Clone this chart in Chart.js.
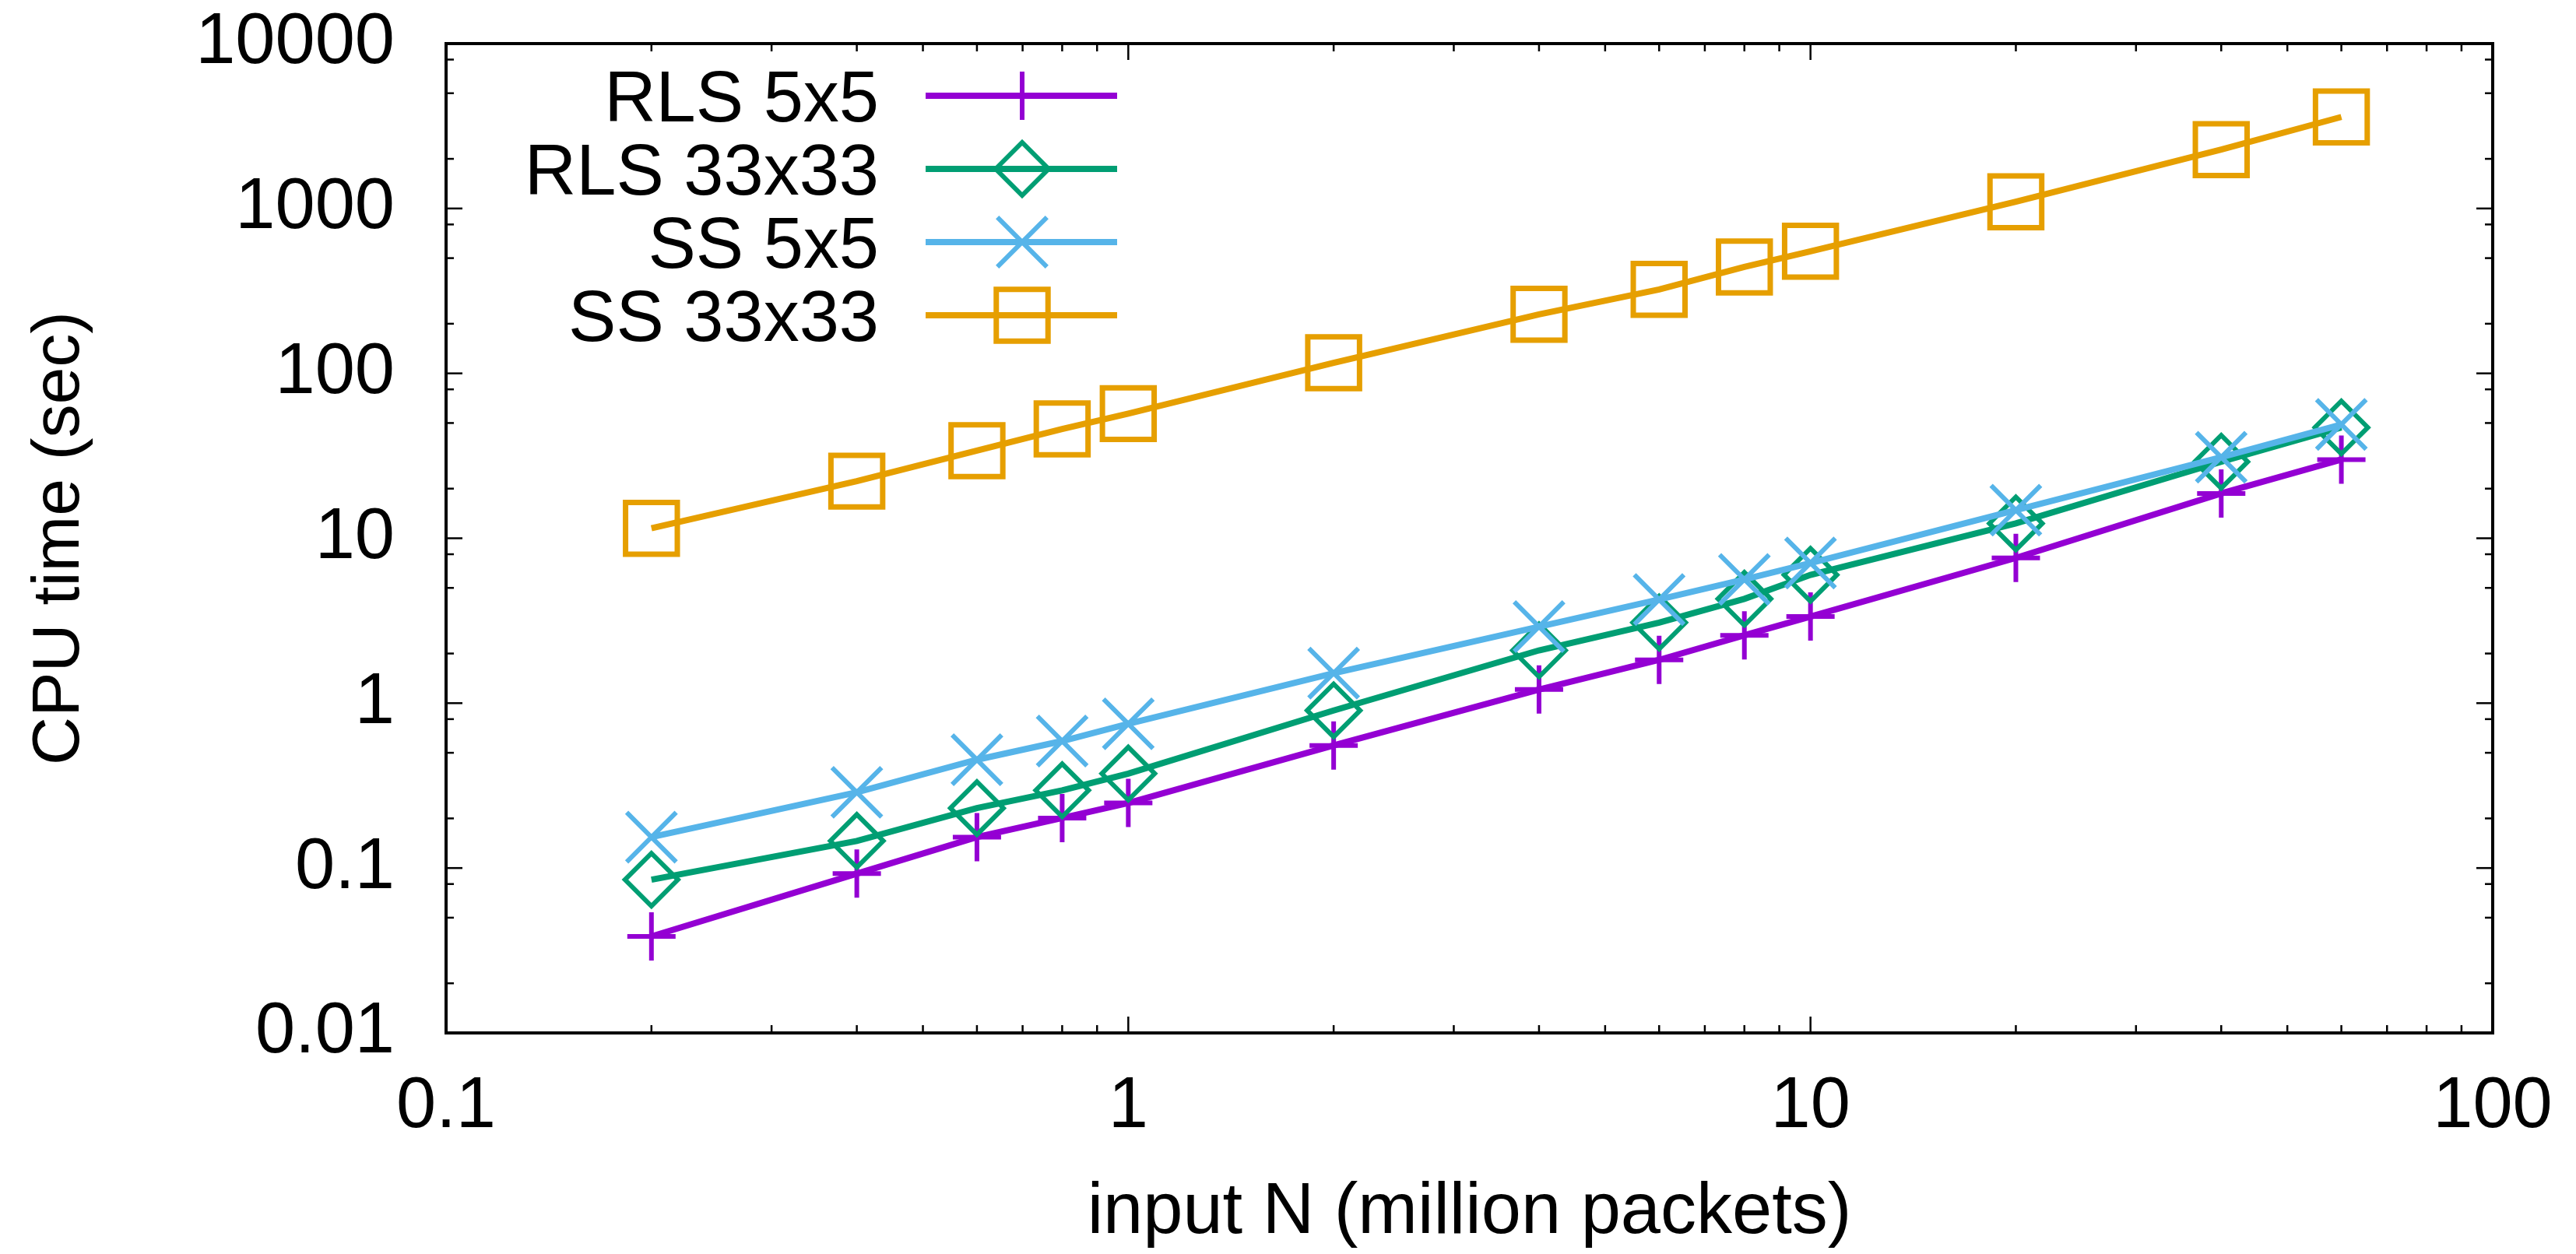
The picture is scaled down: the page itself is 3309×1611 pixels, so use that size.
<!DOCTYPE html>
<html>
<head>
<meta charset="utf-8">
<script src="https://cdn.jsdelivr.net/npm/chart.js@4.4.1/dist/chart.umd.min.js"></script>
<style>
  html, body { margin: 0; padding: 0; background: #fff; }
  #wrap { width: 3309px; height: 1611px; }
</style>
</head>
<body>
<div id="wrap"><canvas id="cpuChart" width="3309" height="1611"></canvas></div>
<script>
// input size (million packets)
const inputN = [0.2, 0.4, 0.6, 0.8, 1, 2, 4, 6, 8, 10, 20, 40, 60];

// CPU time (sec)
const rls5x5   = [0.0385, 0.0925, 0.154, 0.201, 0.248, 0.554, 1.21, 1.83, 2.58, 3.35, 7.6, 18.7, 30.0];
const rls33x33 = [0.085, 0.146, 0.231, 0.296, 0.374, 0.903, 2.09, 3.08, 4.29, 6.0, 12.3, 29.1, 47];
const ss5x5    = [0.154, 0.288, 0.454, 0.589, 0.749, 1.52, 2.91, 4.25, 5.63, 7.08, 14.8, 31.0, 49];
const ss33x33  = [11.5, 22.2, 34, 46, 57, 116, 228, 323, 442, 550, 1099, 2275, 3590];

const seriesNames = ['RLS 5x5', 'RLS 33x33', 'SS 5x5', 'SS 33x33'];
const xTickLabels = ['0.1', '1', '10', '100'];
const yTickLabels = ['0.01', '0.1', '1', '10', '100', '1000', '10000'];

const colors = ['#9400D3', '#009E73', '#56B4E9', '#E69F00'];
const markers = [
    { style: 'cross', radius: 31, width: 6 },
    { style: 'rectRot', radius: 34, width: 6 },
    { style: 'crossRot', radius: 45, width: 6 },
    { style: 'rect', radius: 47, width: 7 }
];
const FONT = '"Liberation Sans", Arial, Helvetica, sans-serif';

const toPoints = ys => inputN.map((x, i) => ({ x: x, y: ys[i] }));
const allSeries = [rls5x5, rls33x33, ss5x5, ss33x33];

const datasets = allSeries.map((ys, i) => ({
    label: seriesNames[i],
    data: toPoints(ys),
    borderColor: colors[i],
    backgroundColor: 'rgba(0,0,0,0)',
    borderWidth: 8,
    pointStyle: markers[i].style,
    pointRadius: markers[i].radius,
    pointBorderWidth: markers[i].width,
    pointBorderColor: colors[i],
    pointBackgroundColor: 'rgba(0,0,0,0)',
    tension: 0,
    order: 4 - i   // later series drawn on top, like gnuplot
}));

// gnuplot style frame with inward ticks on all four sides
const frameTicks = {
    id: 'frameTicks',
    beforeDatasetsDraw(chart) {
        const { ctx, chartArea: a, scales: { x, y } } = chart;
        ctx.save();
        ctx.strokeStyle = '#000';
        ctx.lineWidth = 2.5;
        const seg = (x1, y1, x2, y2) => { ctx.beginPath(); ctx.moveTo(x1, y1); ctx.lineTo(x2, y2); ctx.stroke(); };

        const xMinor = [2, 3, 4, 5, 6, 7, 8, 9];
        xTickLabels.forEach(t => {
            const base = parseFloat(t);
            const px = x.getPixelForValue(base);
            seg(px, a.bottom, px, a.bottom - 21);
            seg(px, a.top, px, a.top + 21);
            if (base >= 100) return;
            xMinor.forEach(m => {
                const p = x.getPixelForValue(base * m);
                seg(p, a.bottom, p, a.bottom - 10);
                seg(p, a.top, p, a.top + 10);
            });
        });

        const yMinor = [2, 5, 8];
        yTickLabels.forEach(t => {
            const base = parseFloat(t);
            const py = y.getPixelForValue(base);
            seg(a.left, py, a.left + 21, py);
            seg(a.right, py, a.right - 21, py);
            if (base >= 10000) return;
            yMinor.forEach(m => {
                const p = y.getPixelForValue(base * m);
                seg(a.left, p, a.left + 10, p);
                seg(a.right, p, a.right - 10, p);
            });
        });

        ctx.lineWidth = 4;
        ctx.strokeRect(a.left, a.top, a.right - a.left, a.bottom - a.top);
        ctx.restore();
    }
};

// key in the top-left corner: text right-aligned, then line sample with marker
const gnuKey = {
    id: 'gnuKey',
    afterDraw(chart) {
        const ctx = chart.ctx;
        ctx.save();
        ctx.font = '92px ' + FONT;
        ctx.textAlign = 'right';
        ctx.textBaseline = 'alphabetic';
        chart.data.datasets.forEach((ds, i) => {
            const rowY = 123 + 94 * i;
            ctx.fillStyle = '#000';
            ctx.fillText(ds.label, 1129, rowY + 33);

            ctx.strokeStyle = ds.borderColor;
            ctx.lineWidth = ds.borderWidth;
            ctx.beginPath();
            ctx.moveTo(1189, rowY);
            ctx.lineTo(1435, rowY);
            ctx.stroke();

            ctx.lineWidth = ds.pointBorderWidth;
            ctx.fillStyle = 'rgba(0,0,0,0)';
            if (Chart.helpers && Chart.helpers.drawPoint) {
                Chart.helpers.drawPoint(ctx, {
                    pointStyle: ds.pointStyle,
                    radius: ds.pointRadius,
                    borderWidth: ds.pointBorderWidth,
                    rotation: 0
                }, 1313, rowY);
            }
        });
        ctx.restore();
    }
};

const ctx = document.getElementById('cpuChart').getContext('2d');
const myChart = new Chart(ctx, {
    type: 'line',
    data: { datasets: datasets },
    options: {
        responsive: false,
        animation: false,
        devicePixelRatio: 1,
        layout: { padding: { top: 56, right: 107, left: 0, bottom: 0 } },
        plugins: {
            legend: { display: false },
            tooltip: { enabled: false }
        },
        scales: {
            x: {
                type: 'logarithmic',
                min: 0.1,
                max: 100,
                grid: { display: false, drawTicks: false },
                border: { display: false },
                afterBuildTicks: s => { s.ticks = xTickLabels.map(t => ({ value: parseFloat(t) })); },
                afterFit: s => {
                    s.height = 1611 - 1327;
                    s.paddingLeft = 0;
                    s.paddingRight = 0;
                },
                ticks: {
                    color: '#000',
                    padding: 50,
                    maxRotation: 0,
                    autoSkip: false,
                    font: { family: FONT, size: 92, lineHeight: 1 },
                    callback: (v, i) => xTickLabels[i]
                },
                title: {
                    display: true,
                    text: 'input N (million packets)',
                    color: '#000',
                    font: { family: FONT, size: 92, lineHeight: 1 },
                    padding: { top: 0, bottom: 6 }
                }
            },
            y: {
                type: 'logarithmic',
                min: 0.01,
                max: 10000,
                grid: { display: false, drawTicks: false },
                border: { display: false },
                afterBuildTicks: s => { s.ticks = yTickLabels.map(t => ({ value: parseFloat(t) })); },
                afterFit: s => {
                    s.width = 573;
                    s.paddingTop = 0;
                    s.paddingBottom = 0;
                },
                ticks: {
                    color: '#000',
                    padding: 66,
                    autoSkip: false,
                    font: { family: FONT, size: 92, lineHeight: 1 },
                    callback: (v, i) => yTickLabels[i]
                },
                title: {
                    display: true,
                    text: 'CPU time (sec)',
                    color: '#000',
                    font: { family: FONT, size: 86, lineHeight: 1 },
                    padding: { top: 34, bottom: 0 }
                }
            }
        }
    },
    plugins: [frameTicks, gnuKey]
});
</script>
</body>
</html>
